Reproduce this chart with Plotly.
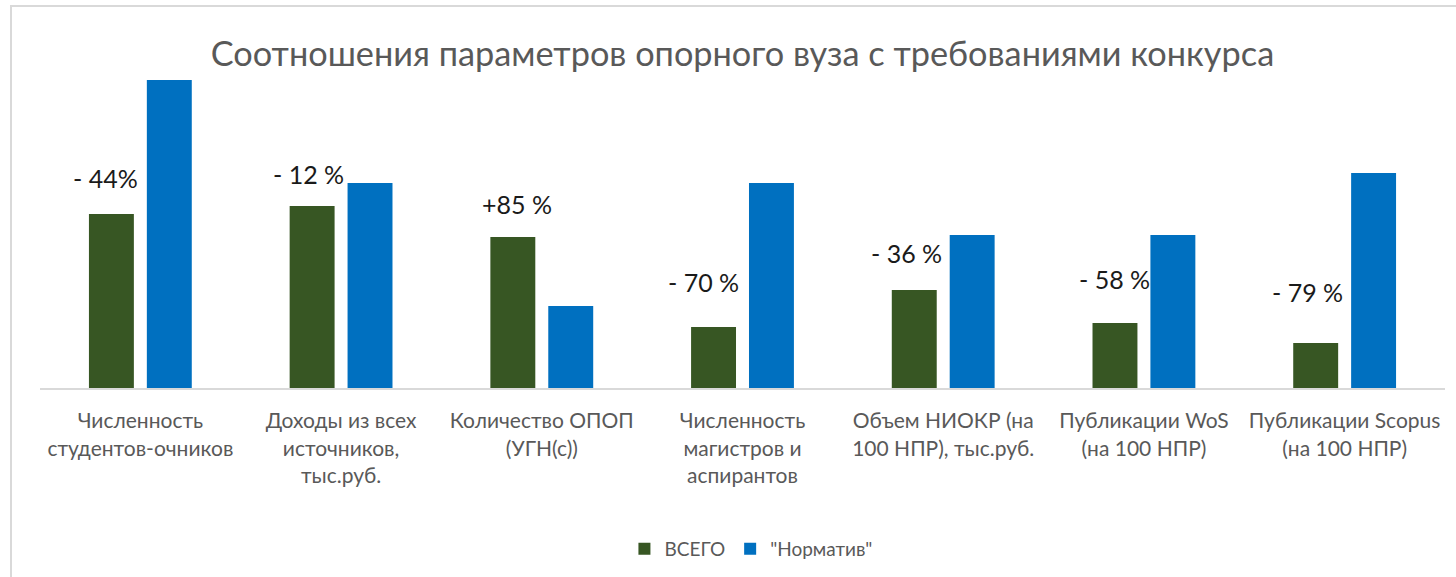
import plotly.graph_objects as go

categories = [
    "Численность<br>студентов-очников",
    "Доходы из всех<br>источников,<br>тыс.руб.",
    "Количество ОПОП<br>(УГН(с))",
    "Численность<br>магистров и<br>аспирантов",
    "Объем НИОКР (на<br>100 НПР), тыс.руб.",
    "Публикации WoS<br>(на 100 НПР)",
    "Публикации Scopus<br>(на 100 НПР)",
]
vsego = [174, 182, 151, 61, 98, 65, 45]
normativ = [308, 205, 82, 205, 153, 153, 215]
diff_labels = ["- 44%", "- 12 %", "+85 %", "- 70 %", "- 36 %", "- 58 %", "- 79 %"]

# label placement (pixels, styling only)
label_xshift = [-35, -33, -25, -39, -37, -29, -37]
label_yshift = [36, 32, 33, 45, 37, 44, 51]

GREEN = "#375623"
BLUE = "#0070C0"
FONT = "Lato"

fig = go.Figure()
fig.add_trace(go.Bar(x=categories, y=vsego, name="ВСЕГО", marker_color=GREEN,
                     marker_line_width=0))
fig.add_trace(go.Bar(x=categories, y=normativ, name="\"Норматив\"", marker_color=BLUE,
                     marker_line_width=0))

for c, v, t, xs, ys in zip(categories, vsego, diff_labels, label_xshift, label_yshift):
    fig.add_annotation(x=c, y=v, text=t, showarrow=False, xshift=xs, yshift=ys,
                       yanchor="middle", xanchor="center",
                       font=dict(family=FONT, size=25, color="#1a1a1a"))

fig.update_layout(
    width=1456, height=577,
    margin=dict(l=40, r=11, t=60, b=189, autoexpand=False),
    paper_bgcolor="white", plot_bgcolor="white",
    barmode="group", bargap=0.423, bargroupgap=0.224,
    title=dict(text="Соотношения параметров опорного вуза с требованиями конкурса",
               x=0.5, xref="paper", xanchor="center", y=1 - 54 / 577, yanchor="middle",
               font=dict(family=FONT, size=34.3, color="#595959")),
    legend=dict(orientation="h", x=0.506, xanchor="center", y=-(549 - 388) / 328,
                yanchor="middle", font=dict(family=FONT, size=19, color="#595959"),
                itemwidth=30, traceorder="normal"),
    showlegend=True,
)
fig.update_xaxes(showgrid=False, showline=True, linecolor="#d9d9d9", linewidth=2,
                 ticks="", tickfont=dict(family=FONT, size=21, color="#595959"),
                 ticklabelstandoff=13, tickangle=0, automargin=False)
fig.update_yaxes(range=[0, 328], visible=False, showgrid=False, zeroline=False,
                 automargin=False)

# chart-area border (extends past right/bottom edge)
fig.add_shape(type="rect", xref="paper", yref="paper",
              x0=-(40 - 11) / 1405, x1=1.05, y0=-0.7, y1=(388 - 6) / 328,
              line=dict(color="#d9d9d9", width=2), fillcolor="rgba(0,0,0,0)", layer="below")

fig.write_html("out.html", config={"displayModeBar": False},
               post_script="document.body.style.margin='0';document.body.style.overflow='hidden';")
